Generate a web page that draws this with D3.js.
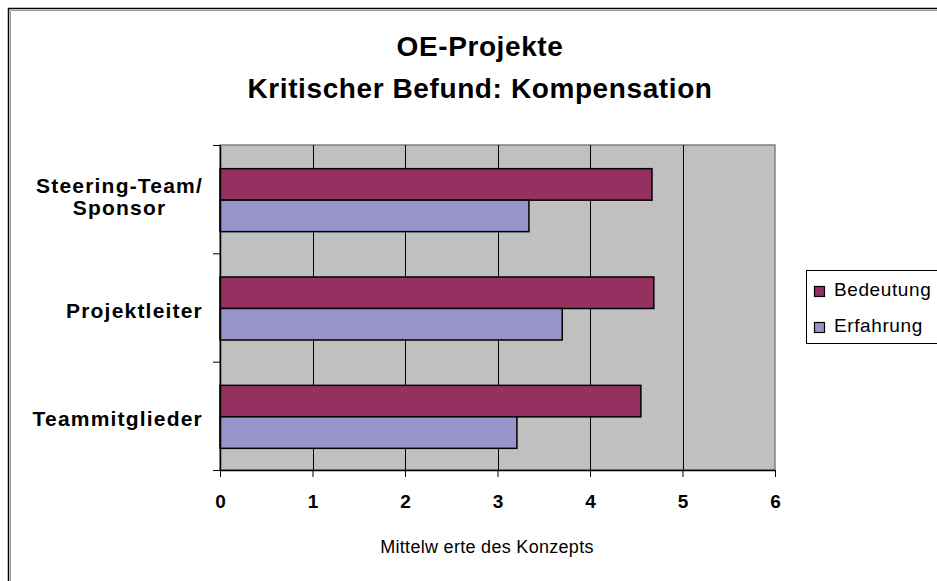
<!DOCTYPE html>
<html>
<head>
<meta charset="utf-8">
<script src="https://cdn.jsdelivr.net/npm/d3@7"></script>
<style>
  html,body{margin:0;padding:0;background:#fff;}
  svg{display:block;font-family:"Liberation Sans",Arial,sans-serif;}
</style>
</head>
<body>
<svg id="chart" width="937" height="581"></svg>
<script>
// data
const categories = [['Steering-Team/','Sponsor'], ['Projektleiter'], ['Teammitglieder']];
const series     = ['Bedeutung','Erfahrung'];
const bedeutung  = [4.67, 4.69, 4.55];
const erfahrung  = [3.34, 3.70, 3.21];
const xTicks     = [0,1,2,3,4,5,6];
const titleLines = ['OE-Projekte','Kritischer Befund: Kompensation'];
const xTitle     = 'Mittelw erte des Konzepts';

const COL = {Bedeutung:'#943160', Erfahrung:'#9794c9'};
const catKeys = categories.map(c=>c.join(' '));
const rows = catKeys.map((k,i)=>({key:k, lines:categories[i], Bedeutung:bedeutung[i], Erfahrung:erfahrung[i]}));

const svg = d3.select('#chart');
const L=220, R=775, T=145, B=470;

// outer frame
svg.append('rect').attr('x',8.5).attr('y',8.5).attr('width',1000).attr('height',1000)
  .attr('fill','#fff').attr('stroke','#000').attr('stroke-width',1.5);
svg.append('path').attr('d','M10.5,1000V10.5H1000').attr('fill','none').attr('stroke','#999').attr('stroke-width',1);

// title
svg.append('g').selectAll('text').data(titleLines).join('text')
  .attr('x',480).attr('y',(d,i)=>56+i*42).attr('text-anchor','middle')
  .attr('font-size',28).attr('font-weight','bold').attr('letter-spacing',0.6)
  .attr('fill','#000').text(d=>d);

const x = d3.scaleLinear().domain([0,6]).range([L,R]);
const y = d3.scaleBand().domain(catKeys).range([T,B]);
const ySub = d3.scaleBand().domain(series).range([0,y.bandwidth()]).paddingOuter(0.72);
const yEdge = d3.scaleLinear().domain([0,categories.length]).range([B,T]);

// plot background
svg.append('rect').attr('x',L).attr('y',T).attr('width',R-L).attr('height',B-T)
  .attr('fill','#c0c0c0').attr('stroke','#808080').attr('stroke-width',1.5);

// vertical gridlines
svg.append('g').selectAll('line').data(xTicks.slice(1,-1)).join('line')
  .attr('x1',d=>Math.round(x(d))+0.5).attr('x2',d=>Math.round(x(d))+0.5)
  .attr('y1',T).attr('y2',B).attr('stroke','#000').attr('stroke-width',1);

// bars
const g = svg.append('g').selectAll('g').data(rows).join('g')
  .attr('transform',d=>`translate(0,${y(d.key)+1})`);
g.selectAll('rect').data(d=>series.map(s=>({s, v:d[s]}))).join('rect')
  .attr('x',x(0)).attr('y',d=>ySub(d.s)).attr('width',d=>x(d.v)-x(0)).attr('height',ySub.bandwidth())
  .attr('fill',d=>COL[d.s]).attr('stroke','#000').attr('stroke-width',1.5);

// x axis
const xAxis = svg.append('g').attr('transform',`translate(0,${B})`)
  .call(d3.axisBottom(x).tickValues(xTicks).tickSize(7).tickSizeOuter(0).tickFormat(d3.format('d')));
xAxis.select('.domain').attr('stroke','#000').attr('stroke-width',1.5);
xAxis.selectAll('.tick line').attr('stroke','#000');
xAxis.selectAll('.tick text').attr('y',38).attr('dy',null).attr('font-size',19).attr('font-weight','bold')
  .attr('font-family','"Liberation Sans",Arial,sans-serif').attr('fill','#000');

// y axis (ticks on category boundaries)
const yAxis = svg.append('g').attr('transform',`translate(${L},0)`)
  .call(d3.axisLeft(yEdge).ticks(categories.length).tickSize(7).tickSizeOuter(0).tickFormat(''));
yAxis.select('.domain').attr('stroke','#000').attr('stroke-width',1.5);
yAxis.selectAll('.tick line').attr('stroke','#000');

// category labels: block right-aligned, lines centered within block
const labG = svg.append('g').attr('font-size',21).attr('font-weight','bold')
  .attr('letter-spacing',1.2).attr('fill','#000');
rows.forEach(r=>{
  const cy = y(r.key)+y.bandwidth()/2;
  const n = r.lines.length;
  const t = labG.append('text').attr('text-anchor','middle');
  r.lines.forEach((ln,i)=>{
    t.append('tspan').attr('x',0).attr('y',cy+10+(i-(n-1)/2)*22-(n-1)*5).text(ln);
  });
  const w = t.node().getBBox().width;
  t.selectAll('tspan').attr('x',203-w/2);
});

// x axis title
svg.append('text').attr('x',487).attr('y',553).attr('text-anchor','middle')
  .attr('font-size',18).attr('letter-spacing',0.3).attr('fill','#000').text(xTitle);

// legend
const lg = svg.append('g');
lg.append('rect').attr('x',806.5).attr('y',270.5).attr('width',200).attr('height',73)
  .attr('fill','#fff').attr('stroke','#000').attr('stroke-width',1);
const li = lg.selectAll('g').data(series).join('g')
  .attr('transform',(d,i)=>`translate(814,${296+i*36})`);
li.append('rect').attr('x',0.5).attr('y',-9.5).attr('width',10).attr('height',10)
  .attr('fill',d=>COL[d]).attr('stroke','#000').attr('stroke-width',1.2);
li.append('text').attr('x',20).attr('y',0).attr('font-size',19).attr('letter-spacing',0.6)
  .attr('fill','#000').text(d=>d);
</script>
</body>
</html>
